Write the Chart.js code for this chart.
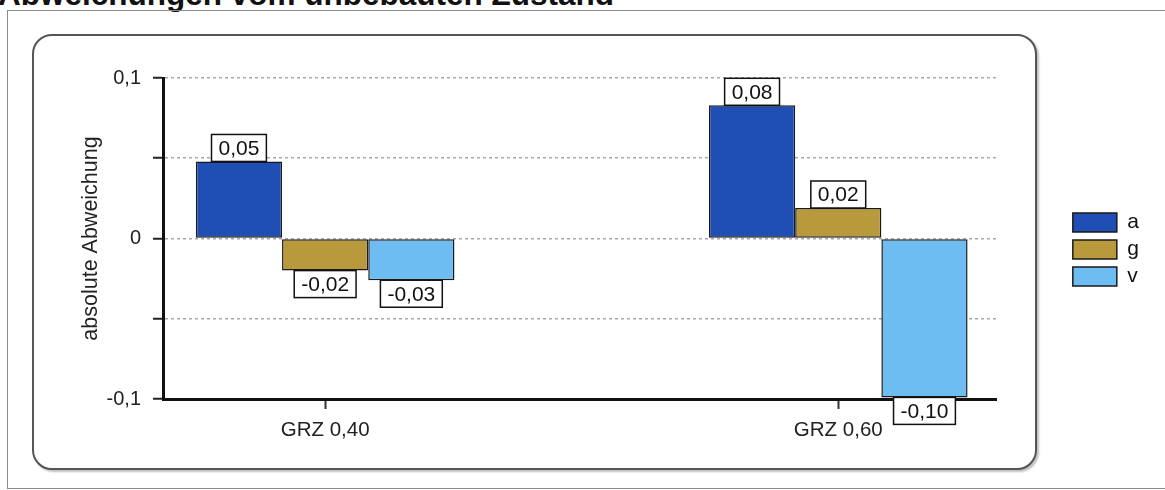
<!DOCTYPE html>
<html lang="de">
<head>
<meta charset="utf-8">
<script src="https://cdn.jsdelivr.net/npm/chart.js@4/dist/chart.umd.min.js"></script>
<style>
  html, body { margin: 0; padding: 0; background: #fff; }
  body { width: 1165px; height: 490px; position: relative; overflow: hidden; font-family: "Liberation Sans", Arial, sans-serif; }
  .heading { position: absolute; left: -2px; top: -21px; font-size: 31.5px; line-height: 31px; font-weight: bold; color: #111; white-space: nowrap; }
  .outer { position: absolute; left: 7px; top: 10px; width: 1200px; height: 477px; border: 1.5px solid #8a8a8a; }
  .panel { position: absolute; left: 32px; top: 34px; width: 1001px; height: 432px; border: 2px solid #555; border-radius: 20px; box-shadow: 2px 2px 2px rgba(0,0,0,0.25); background: #fff; }
  #chart { position: absolute; left: 0; top: 0; }
</style>
</head>
<body>
<div class="heading">Abweichungen vom unbebauten Zustand</div>
<div class="outer"></div>
<div class="panel"></div>
<canvas id="chart" width="1165" height="490"></canvas>
<script>
// Werte
const categories = ["GRZ 0,40", "GRZ 0,60"];
const seriesNames = ["a", "g", "v"];
const seriesA = [0.048, 0.083];
const seriesG = [-0.02, 0.019];
const seriesV = [-0.026, -0.099];
const yTickValues = [-0.1, -0.05, 0, 0.05, 0.1];
const yTickLabels = ["-0,1", "", "0", "", "0,1"];

const colors = ["#1f4fb4", "#b89a3c", "#6dbdf2"];
const allSeries = [seriesA, seriesG, seriesV];

const fontFamily = "'Liberation Sans', Arial, sans-serif";

// boxed value labels above / below each bar
const valueBoxes = {
  id: "valueBoxes",
  afterDatasetsDraw(chart) {
    const ctx = chart.ctx;
    ctx.save();
    ctx.font = "21px " + fontFamily;
    ctx.textAlign = "center";
    ctx.textBaseline = "middle";
    chart.data.datasets.forEach((ds, di) => {
      const meta = chart.getDatasetMeta(di);
      meta.data.forEach((bar, i) => {
        const v = ds.data[i].y;
        const text = v.toFixed(2).replace(".", ",");
        const w = ctx.measureText(text).width + 14;
        const h = 27;
        const x = bar.x - w / 2;
        const y = v >= 0 ? bar.y - h : bar.y;
        ctx.fillStyle = "#fff";
        ctx.fillRect(x, y, w, h);
        ctx.lineWidth = 1.5;
        ctx.strokeStyle = "#111";
        ctx.strokeRect(x, y, w, h);
        ctx.fillStyle = "#111";
        ctx.fillText(text, bar.x, y + h / 2 + 1);
      });
    });
    ctx.restore();
  },
};

const ctx = document.getElementById("chart").getContext("2d");
const chart = new Chart(ctx, {
  type: "bar",
  data: {
    datasets: seriesNames.map((name, k) => ({
      label: name,
      data: allSeries[k].map((v, i) => ({ x: i, y: v })),
      backgroundColor: colors[k],
      borderColor: "#1a1a1a",
      borderWidth: 1.5,
      borderSkipped: false,
      categoryPercentage: 0.504,
      barPercentage: 1.0,
    })),
  },
  options: {
    responsive: false,
    animation: false,
    layout: { padding: { left: 78, top: 78, right: 16, bottom: 31 } },
    plugins: {
      tooltip: { enabled: false },
      legend: {
        position: "right",
        align: "start",
        title: { display: true, text: "", font: { size: 10, lineHeight: 1 }, padding: { top: 118, bottom: 0 } },
        labels: {
          boxWidth: 44,
          boxHeight: 19,
          padding: 6,
          color: "#111",
          font: { family: fontFamily, size: 21 },
        },
      },
    },
    scales: {
      x: {
        type: "linear",
        offset: false,
        min: -0.316,
        max: 1.309,
        afterBuildTicks(scale) {
          scale.ticks = categories.map((c, i) => ({ value: i }));
        },
        afterFit(scale) { scale.height = 60; },
        ticks: {
          color: "#222",
          padding: 9,
          font: { family: fontFamily, size: 20.5 },
          callback: (value) => categories[value] ?? "",
        },
        grid: { offset: false, drawOnChartArea: false, drawTicks: true, tickLength: 10, tickWidth: 2, tickColor: "#333" },
        border: { display: true, color: "#111", width: 3 },
      },
      y: {
        min: -0.1,
        max: 0.1,
        afterBuildTicks(scale) {
          scale.ticks = yTickValues.map((v) => ({ value: v }));
        },
        afterFit(scale) { scale.width = 85; },
        ticks: {
          color: "#222",
          padding: 12,
          font: { family: fontFamily, size: 20 },
          callback: (value) => yTickLabels[yTickValues.findIndex((t) => Math.abs(t - value) < 1e-9)] ?? "",
        },
        title: {
          display: true,
          text: "absolute Abweichung",
          color: "#222",
          padding: 0,
          font: { family: fontFamily, size: 21.5 },
        },
        grid: {
          color: (c) => (c.tick && Math.abs(c.tick.value + 0.1) < 1e-9 ? "rgba(0,0,0,0)" : "#a8a8a8"),
          lineWidth: 1.5,
          tickLength: 10,
          tickWidth: 2,
          tickColor: "#222",
        },
        border: { display: true, color: "#111", width: 3, dash: [3, 3] },
      },
      y2: {
        position: "right",
        display: true,
        afterFit(scale) { scale.width = 70; },
        ticks: { display: false },
        grid: { display: false, drawTicks: false },
        border: { display: false },
      },
    },
  },
  plugins: [valueBoxes],
});
</script>
</body>
</html>
